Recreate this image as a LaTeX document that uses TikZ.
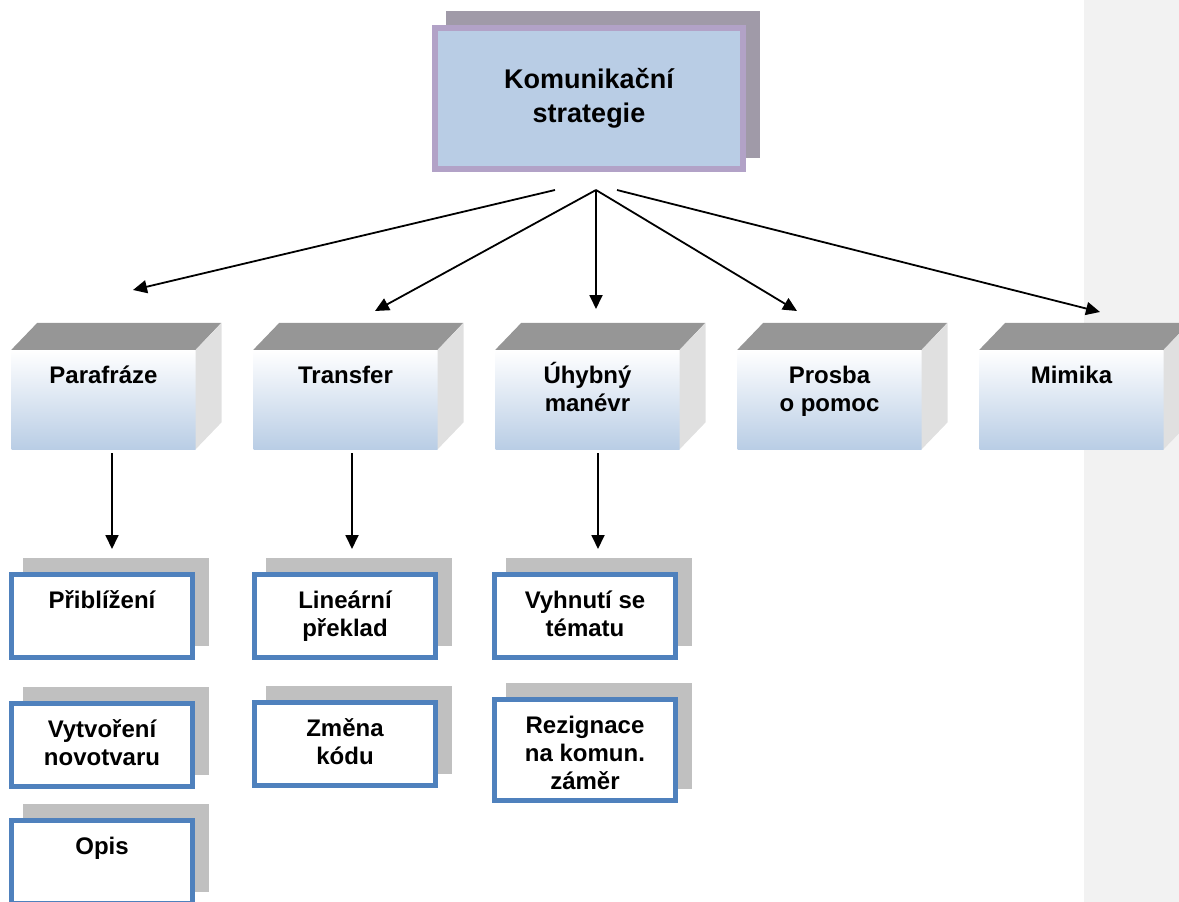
\documentclass[tikz,border=0pt]{standalone}
\usepackage{fontspec}
\setmainfont{Liberation Sans}
\usetikzlibrary{arrows.meta,shadows}

\definecolor{topfill}{RGB}{185,205,229}
\definecolor{topborder}{RGB}{178,162,199}
\definecolor{topshade}{RGB}{160,154,168}
\definecolor{roofgray}{RGB}{150,150,150}
\definecolor{sidegray}{RGB}{224,224,224}
\definecolor{frameblue}{RGB}{79,129,189}
\definecolor{backgray}{RGB}{192,192,192}
\definecolor{panelgray}{RGB}{242,242,242}

% text set from the top of a box
\newcommand{\levtext}[1]{\parbox[c][78pt][t]{184pt}{\centering\rule{0pt}{23pt}#1}}
\newcommand{\subtext}[2][61pt]{\parbox[c][#1][t]{181pt}{\centering\rule{0pt}{23pt}#2}}

\tikzset{
  topbox/.style={draw=topborder, line width=6pt, fill=topfill,
    minimum width=308pt, minimum height=141pt, align=center,
    font=\bfseries\fontsize{27}{34}\selectfont,
    copy shadow={shadow xshift=14pt, shadow yshift=14pt, fill=topshade, draw=topshade}},
  levelbox/.style={inner xsep=0pt, inner ysep=10.5pt, top color=white, bottom color=topfill,
    font=\bfseries\fontsize{24}{28}\selectfont},
  subbox/.style={draw=frameblue, line width=5pt, fill=white, inner xsep=0pt, inner ysep=11pt,
    font=\bfseries\fontsize{24}{28}\selectfont,
    copy shadow={shadow xshift=14pt, shadow yshift=14pt, fill=backgray, draw=backgray}},
  roof/.style={fill=roofgray},
  side/.style={fill=sidegray},
  arr/.style={line width=1.8pt, -{Triangle[length=14pt,width=13pt]}}
}

\begin{document}
\begin{tikzpicture}[x=1pt,y=-1pt]
  \useasboundingbox (0,0) rectangle (1179,902);
  \clip (0,0) rectangle (1179,902);
  \fill[panelgray] (1084,0) rectangle (1179,902);

  % top
  \node[topbox] (kom) at (589,98.5) {Komunikační\\strategie};

  % second level
  \node[levelbox] (para) at (103.5,399.5) {\levtext{Parafráze}};
  \node[levelbox] (trans) at (345.5,399.5) {\levtext{Transfer}};
  \node[levelbox] (uhyb) at (587.5,399.5) {\levtext{Úhybný\\manévr}};
  \node[levelbox] (prosba) at (829.5,399.5) {\levtext{Prosba\\o pomoc}};
  \node[levelbox] (mimika) at (1071.5,399.5) {\levtext{Mimika}};
  \foreach \n in {para,trans,uhyb,prosba,mimika} {
    \fill[roof] (\n.north west) -- ++(26,-27) -- ++(184,0) -- (\n.north east) -- cycle;
    \fill[side] (\n.north east) -- ++(26,-27) -- ([shift={(26,-27)}]\n.south east) -- (\n.south east) -- cycle;
  }

  % third level
  \node[subbox] (approx) at (102,616) {\subtext{Přiblížení}};
  \node[subbox] (novo) at (102,745) {\subtext{Vytvoření\\novotvaru}};
  \node[subbox] (opis) at (102,862) {\subtext{Opis}};
  \node[subbox] (linear) at (345,616) {\subtext{Lineární\\překlad}};
  \node[subbox] (kod) at (345,743.5) {\subtext{Změna\\kódu}};
  \node[subbox] (vyhnuti) at (585,616) {\subtext{Vyhnutí se\\tématu}};
  \node[subbox] (rezig) at (585,750) {\subtext[79pt]{Rezignace\\na komun.\\záměr}};

  % arrows
  \coordinate (hub) at (596,190);
  \coordinate (hubL) at (555,190);
  \coordinate (hubR) at (617,190);
  \coordinate (paraIn) at (133,290);
  \coordinate (transIn) at (375,311);
  \coordinate (uhybIn) at (596,309);
  \coordinate (prosbaIn) at (797,311);
  \coordinate (mimikaIn) at (1100,312);
  \draw[arr] (hubL) -- (paraIn);
  \draw[arr] (hub) -- (transIn);
  \draw[arr] (hub) -- (uhybIn);
  \draw[arr] (hub) -- (prosbaIn);
  \draw[arr] (hubR) -- (mimikaIn);

  \coordinate (paraOut) at (112,453);
  \coordinate (transOut) at (352,453);
  \coordinate (uhybOut) at (598,453);
  \coordinate (approxIn) at (112,549);
  \coordinate (linearIn) at (352,549);
  \coordinate (vyhnutiIn) at (598,549);
  \draw[arr] (paraOut) -- (approxIn);
  \draw[arr] (transOut) -- (linearIn);
  \draw[arr] (uhybOut) -- (vyhnutiIn);
\end{tikzpicture}
\end{document}
